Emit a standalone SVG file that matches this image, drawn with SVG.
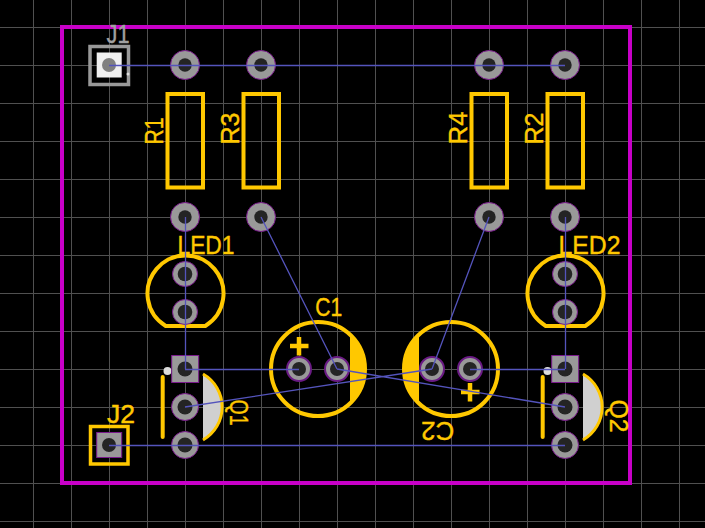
<svg xmlns="http://www.w3.org/2000/svg" width="705" height="528" viewBox="0 0 705 528">
<defs>
<style>
.g{stroke:#505050;stroke-width:1;fill:none}
.o{stroke:#ffc800;stroke-width:4;fill:none}
.s{stroke:#ffc800;stroke-width:4;fill:none}
.pad{fill:#999;stroke:#7a1a8c;stroke-width:1}
.cp{fill:#999;stroke:#6a1a84;stroke-width:2}
.h{fill:#242424}
.r{stroke:#5454bc;stroke-width:1.300;fill:none}
text{font-family:"Liberation Sans",Arial,sans-serif;font-size:25px;fill:#ffc800;stroke:#ffc800;stroke-width:.4;text-anchor:middle}
</style>
</defs>
<rect width="705" height="528" fill="#000"/>
<path class="g" d="M33.500 0V528M71.500 0V528M109.500 0V528M147.500 0V528M185.500 0V528M223.500 0V528M261.500 0V528M299.500 0V528M337.500 0V528M375.500 0V528M413.500 0V528M451.500 0V528M489.500 0V528M527.500 0V528M565.500 0V528M603.500 0V528M641.500 0V528M679.500 0V528M0 27.500H705M0 65.500H705M0 103.500H705M0 141.500H705M0 179.500H705M0 217.500H705M0 255.500H705M0 293.500H705M0 331.500H705M0 369.500H705M0 407.500H705M0 445.500H705M0 483.500H705M0 521.500H705"/>
<rect id="board" x="62" y="27" width="568" height="456" fill="none" stroke="#c800c8" stroke-width="4"/>
<g id="J1">
<rect x="90" y="46.500" width="38.500" height="38" fill="none" stroke="#999" stroke-width="3.500"/>
<rect x="96.700" y="52.500" width="25" height="25" fill="#f0f0f0"/>
<circle cx="109" cy="65" r="7" fill="#808080"/>
<circle cx="128" cy="74" r="1.500" fill="#ddd"/>
<text x="118" y="43.300" style="fill:#a0a0a0;stroke:#a0a0a0" textLength="23" lengthAdjust="spacingAndGlyphs">J1</text>
</g>
<g id="J2">
<rect x="90.500" y="426.500" width="37.500" height="37.500" class="s" style="stroke-width:3.500"/>
<rect x="96.700" y="432.500" width="25" height="25" class="pad"/>
<circle cx="109" cy="445" r="7" class="h"/>
<text x="121" y="423" textLength="28" lengthAdjust="spacingAndGlyphs">J2</text>
</g>
<g id="R1">
<rect x="167.500" y="94" width="35.500" height="93.500" class="s"/>
<circle cx="185" cy="65" r="14.500" class="pad"/><circle cx="185" cy="65" r="6.700" class="h"/>
<circle cx="185" cy="217" r="14.500" class="pad"/><circle cx="185" cy="217" r="6.700" class="h"/>
<text transform="translate(163 131) rotate(-90)" textLength="27" lengthAdjust="spacingAndGlyphs">R1</text>
</g>
<g id="R3">
<rect x="243.500" y="94" width="35.500" height="93.500" class="s"/>
<circle cx="261" cy="65" r="14.500" class="pad"/><circle cx="261" cy="65" r="6.700" class="h"/>
<circle cx="261" cy="217" r="14.500" class="pad"/><circle cx="261" cy="217" r="6.700" class="h"/>
<text transform="translate(239 128.500) rotate(-90)" textLength="32" lengthAdjust="spacingAndGlyphs">R3</text>
</g>
<g id="R4">
<rect x="471.500" y="94" width="35.500" height="93.500" class="s"/>
<circle cx="489" cy="65" r="14.500" class="pad"/><circle cx="489" cy="65" r="6.700" class="h"/>
<circle cx="489" cy="217" r="14.500" class="pad"/><circle cx="489" cy="217" r="6.700" class="h"/>
<text transform="translate(467 128) rotate(-90)" textLength="33" lengthAdjust="spacingAndGlyphs">R4</text>
</g>
<g id="R2">
<rect x="547.500" y="94" width="35.500" height="93.500" class="s"/>
<circle cx="565" cy="65" r="14.500" class="pad"/><circle cx="565" cy="65" r="6.700" class="h"/>
<circle cx="565" cy="217" r="14.500" class="pad"/><circle cx="565" cy="217" r="6.700" class="h"/>
<text transform="translate(543 128.500) rotate(-90)" textLength="32" lengthAdjust="spacingAndGlyphs">R2</text>
</g>
<g id="LED1">
<path class="o" d="M165.700 326H205.300A38 38 0 1 0 165.700 326Z"/>
<circle cx="185" cy="274" r="12.500" class="pad"/><circle cx="185" cy="274" r="7.300" class="h"/>
<circle cx="185" cy="312" r="12.500" class="pad"/><circle cx="185" cy="312" r="7.300" class="h"/>
<text x="206" y="253.500" textLength="57" lengthAdjust="spacingAndGlyphs">LED1</text>
</g>
<g id="LED2">
<path class="o" d="M545.700 326H585.300A38 38 0 1 0 545.700 326Z"/>
<circle cx="565" cy="274" r="12.500" class="pad"/><circle cx="565" cy="274" r="7.300" class="h"/>
<circle cx="565" cy="312" r="12.500" class="pad"/><circle cx="565" cy="312" r="7.300" class="h"/>
<text x="589.500" y="253.500" textLength="62" lengthAdjust="spacingAndGlyphs">LED2</text>
</g>
<g id="Q1">
<path d="M203 374A38 38 0 0 1 203 440Z" fill="#d0d0d0"/>
<path d="M203 374A38 38 0 0 1 203 440" fill="none" stroke="#ffc800" stroke-width="3"/>
<path d="M162.700 377V437" class="s" stroke-linecap="round"/>
<circle cx="167.500" cy="371" r="4" fill="#dcdcdc"/>
<rect x="171.700" y="355.500" width="27" height="27" class="pad"/><circle cx="185" cy="369" r="7.500" class="h"/>
<circle cx="185" cy="407" r="13.500" class="pad"/><circle cx="185" cy="407" r="7.500" class="h"/>
<circle cx="185" cy="445" r="13.500" class="pad"/><circle cx="185" cy="445" r="7.500" class="h"/>
<text transform="translate(230 412.500) rotate(90)" textLength="26" lengthAdjust="spacingAndGlyphs">Q1</text>
</g>
<g id="Q2">
<path d="M583 374A38 38 0 0 1 583 440Z" fill="#d0d0d0"/>
<path d="M583 374A38 38 0 0 1 583 440" fill="none" stroke="#ffc800" stroke-width="3"/>
<path d="M542.700 377V437" class="s" stroke-linecap="round"/>
<circle cx="547.500" cy="371" r="4" fill="#dcdcdc"/>
<rect x="551.700" y="355.500" width="27" height="27" class="pad"/><circle cx="565" cy="369" r="7.500" class="h"/>
<circle cx="565" cy="407" r="13.500" class="pad"/><circle cx="565" cy="407" r="7.500" class="h"/>
<circle cx="565" cy="445" r="13.500" class="pad"/><circle cx="565" cy="445" r="7.500" class="h"/>
<text transform="translate(610 416) rotate(90)" textLength="33" lengthAdjust="spacingAndGlyphs">Q2</text>
</g>
<g id="C1">
<circle cx="318" cy="369" r="47" class="o"/>
<path d="M350 334.500A47 47 0 0 1 350 403.500Z" fill="#ffc800"/>
<path d="M290 346H308.500M299 337V355.500" class="o" style="stroke-width:4.500"/>
<circle cx="299" cy="369" r="12" class="cp"/><circle cx="299" cy="369" r="7" class="h"/>
<circle cx="337" cy="369" r="12" class="cp"/><circle cx="337" cy="369" r="7" class="h"/>
<text x="328.700" y="316" textLength="27" lengthAdjust="spacingAndGlyphs">C1</text>
</g>
<g id="C2">
<circle cx="451" cy="369" r="47" class="o"/>
<path d="M419 334.500A47 47 0 0 0 419 403.500Z" fill="#ffc800"/>
<path d="M461 392H479.500M470 383V401.500" class="o" style="stroke-width:4.500"/>
<circle cx="432" cy="369" r="12" class="cp"/><circle cx="432" cy="369" r="7" class="h"/>
<circle cx="470" cy="369" r="12" class="cp"/><circle cx="470" cy="369" r="7" class="h"/>
<text transform="translate(437.700 422) rotate(180)" textLength="33" lengthAdjust="spacingAndGlyphs">C2</text>
</g>
<g id="connectors">
<path class="r" d="M109 65.500H565M185.500 217V369M565.500 217V369M261 217L337 369M489 217L432 369M185 369.500H299M565 369.500H470M185 407L432 369M337 369L565 407M109 445.500H565"/>
</g>
</svg>
